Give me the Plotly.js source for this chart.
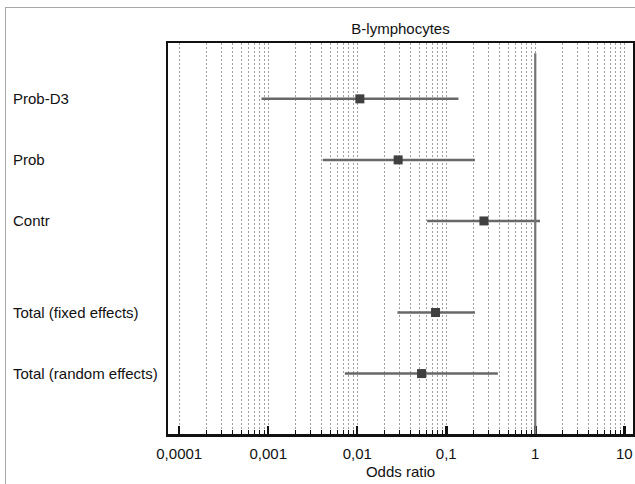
<!DOCTYPE html>
<html>
<head>
<meta charset="utf-8">
<script src="https://cdn.plot.ly/plotly-3.0.1.min.js"></script>
<style>
  html, body { margin: 0; padding: 0; background: #fff; }
  #wrap { position: relative; width: 635px; height: 484px; overflow: hidden; }
  #chart { position: absolute; left: 0; top: 0; width: 635px; height: 484px; }
  #frame { position: absolute; left: 5px; top: 7px; width: 640px; height: 490px;
           border-top: 1.5px solid #a8a8a8; border-left: 1.5px solid #a8a8a8; pointer-events: none; }
</style>
</head>
<body>
<div id="wrap">
  <div id="chart"></div>
  <div id="frame"></div>
</div>
<script>
// ---- data ----
const labels   = ["Prob-D3", "Prob", "Contr", "Total (fixed effects)", "Total (random effects)"];
const rowPos   = [0, 1, 2, 3.5, 4.5];
const estimate = [0.0107, 0.0288, 0.265, 0.0758, 0.0528];
const ciLow    = [0.00084, 0.0041, 0.061, 0.0283, 0.00726];
const ciHigh   = [0.137, 0.21, 1.13, 0.21, 0.38];
const tickVals = [0.0001, 0.001, 0.01, 0.1, 1, 10];
const tickText = ["0,0001", "0,001", "0,01", "0,1", "1", "10"];

// minor ticks 2..9 of each decade
const minorVals = [];
for (let e = -4; e <= 0; e++) {
  for (let m = 2; m <= 9; m++) minorVals.push(+(m * Math.pow(10, e)).toPrecision(3));
}

const M = { l: 168, r: 2, t: 43, b: 50 };
const plotW = 635 - M.l - M.r;
const font = "Liberation Sans, Arial, Helvetica, sans-serif";
const FS = 15;

const trace = {
  type: "scatter",
  mode: "markers",
  x: estimate,
  y: rowPos,
  marker: { symbol: "square", size: 9, color: "#404040" },
  error_x: {
    type: "data",
    symmetric: false,
    array: estimate.map((v, i) => ciHigh[i] - v),
    arrayminus: estimate.map((v, i) => v - ciLow[i]),
    color: "#686868",
    thickness: 2.5,
    width: 0
  },
  hoverinfo: "skip",
  showlegend: false
};

const annotations = labels.map((t, i) => ({
  text: t, xref: "paper", yref: "y", x: (11 - M.l) / plotW, y: rowPos[i],
  xanchor: "left", yanchor: "middle", showarrow: false,
  font: { family: font, size: FS, color: "#111" }
}));

const layout = {
  width: 635, height: 484,
  margin: M,
  paper_bgcolor: "#fff", plot_bgcolor: "#fff",
  font: { family: font, size: FS, color: "#111" },
  title: {
    text: "B-lymphocytes", xref: "paper", x: 0.5, xanchor: "center",
    yref: "container", y: 1 - 29 / 484, yanchor: "middle",
    font: { family: font, size: FS, color: "#111" }
  },
  xaxis: {
    type: "log",
    range: [-4.126, 1.098],
    tickmode: "array", tickvals: tickVals, ticktext: tickText,
    ticks: "inside", ticklen: 8, tickwidth: 2.5, tickcolor: "#111",
    showline: true, linecolor: "#111", linewidth: 2.5, mirror: true,
    showgrid: true, gridcolor: "#a0a0a0", gridwidth: 1, griddash: "2px,2px",
    minor: {
      tickmode: "array", tickvals: minorVals,
      ticks: "inside", ticklen: 4, tickwidth: 1, tickcolor: "#111",
      showgrid: true, gridcolor: "#a0a0a0", gridwidth: 1, griddash: "2px,2px"
    },
    zeroline: false,
    ticklabelstandoff: 4,
    tickfont: { family: font, size: FS, color: "#111" },
    title: { text: "Odds ratio", standoff: 6, font: { family: font, size: FS, color: "#111" } },
    fixedrange: true
  },
  yaxis: {
    range: [5.49, -0.915],
    showticklabels: false, ticks: "", showgrid: false, zeroline: false,
    showline: true, linecolor: "#111", linewidth: 2.5, mirror: true,
    fixedrange: true
  },
  shapes: [{
    type: "line", xref: "x", yref: "paper",
    x0: 1, x1: 1, y0: 0, y1: (434 - 52.7) / 391.5,
    line: { color: "#747474", width: 2.2 }
  }],
  annotations: annotations
};

Plotly.newPlot("chart", [trace], layout, { displayModeBar: false, staticPlot: true });
</script>
</body>
</html>
